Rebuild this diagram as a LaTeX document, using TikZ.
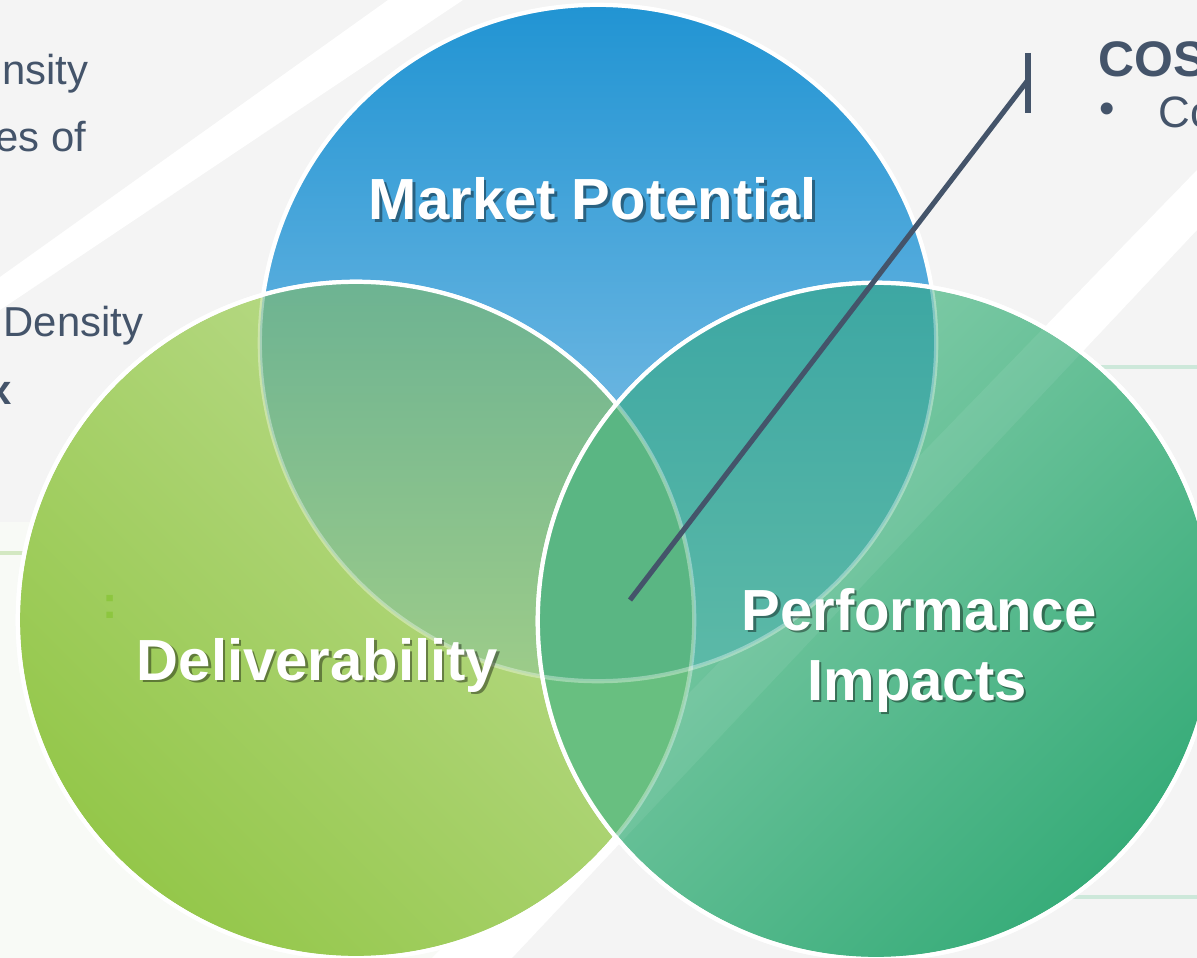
\documentclass[tikz,border=0pt]{standalone}
\usepackage{fontspec}
\setmainfont{Liberation Sans}
\definecolor{slate}{HTML}{44546A}
\definecolor{bgGray}{HTML}{F4F4F4}
\definecolor{mktTop}{HTML}{2194D3}
\definecolor{mktMid}{HTML}{62B1DF}
\definecolor{mktBot}{HTML}{9ACBEA}
\definecolor{dlvDark}{HTML}{94C74A}
\definecolor{dlvLight}{HTML}{BEDD92}
\definecolor{prfLight}{HTML}{8CD0AF}
\definecolor{prfDark}{HTML}{37AC79}
\definecolor{mdTop}{HTML}{6DB392}
\definecolor{mdBot}{HTML}{9DCC89}
\definecolor{mpTop}{HTML}{3DA7A3}
\definecolor{mpBot}{HTML}{5DBAA7}
\definecolor{dpMix}{HTML}{68BF80}
\definecolor{allMix}{HTML}{5AB683}
\definecolor{dotGreen}{HTML}{8DC63F}
\definecolor{panelLine}{HTML}{D3E8C2}
\definecolor{panelLineR}{HTML}{CDE8DA}
\definecolor{panelFill}{HTML}{F8FAF6}
\newcommand{\circrad}{3.38cm}
\begin{document}
\begin{tikzpicture}[x=0.01cm, y=-0.01cm,
  ring/.style={circle, minimum size=6.76cm, inner sep=0pt},
  rim/.style={draw=white, line width=1.2pt},
  faint/.style={draw=white, draw opacity=0.35, line width=1.2pt},
  big/.style={text=white, font=\bfseries\fontsize{16.5}{20}\selectfont, inner sep=0pt, anchor=base},
  bigshadow/.style={big, text=black, text opacity=0.4},
  side/.style={text=slate, font=\fontsize{11.9}{14}\selectfont, inner sep=0pt},
  lead/.style={draw=slate, line width=1.45pt}]
\clip (0,0) rectangle (1197,958);
\fill[bgGray] (0,0) rectangle (1197,958);
\fill[panelFill] (0,522) rectangle (440,958);
\draw[panelLine, line width=0.9pt] (0,553) -- (440,553);
\draw[panelLineR, line width=0.9pt] (1000,367) -- (1197,367);
\draw[panelLineR, line width=0.9pt] (1000,897) -- (1197,897);
\fill[white] (0,277) -- (388,0) -- (463,0) -- (0,310) -- cycle;
\fill[white] (1197,170) -- (1197,230) -- (512,958) -- (432,958) -- cycle;
\node[side, anchor=base east] (T_a) at (89,85) {ensity};
\node[side, anchor=base east] (T_b) at (87,152) {es of};
\node[side, anchor=base west] (T_c) at (3,337) {Density};
\node[side, anchor=base east, font=\bfseries\fontsize{11.9}{14}\selectfont] (T_d) at (12,405) {x};
\node[side, anchor=base west, font=\bfseries\fontsize{14.2}{17}\selectfont] (T_e) at (1098,77) {COS};
\node[side, font=\fontsize{12.5}{15}\selectfont] (T_f) at (1107,113) {•};
\node[side, anchor=base west, font=\fontsize{12.5}{15}\selectfont] (T_g) at (1158,128) {Co};
\node[ring, top color=mktTop, middle color=mktMid, bottom color=mktBot, rim] (C_mkt) at (598,343) {};
\node[ring, top color=dlvLight, bottom color=dlvDark, shading angle=-45, rim] (C_dlv) at (356,620) {};
\begin{scope}
  \clip (C_dlv.center) circle [radius=\circrad];
  \clip (C_mkt.center) circle [radius=\circrad];
  \shade[top color=mdTop, bottom color=mdBot] (0,282) rectangle (700,681);
\end{scope}
\draw[rim] (C_dlv.center) circle [radius=\circrad];
\draw[faint] (C_mkt.center) circle [radius=\circrad];
\node[ring, top color=prfLight, bottom color=prfDark, shading angle=45, rim] (C_prf) at (876,621) {};
\begin{scope}
  \clip (C_prf.center) circle [radius=\circrad];
  \fill[white, opacity=0.07] (1197,170) -- (1197,230) -- (512,958) -- (432,958) -- cycle;
  \begin{scope}
    \clip (C_mkt.center) circle [radius=\circrad];
    \shade[top color=mpTop, bottom color=mpBot] (500,283) rectangle (950,681);
  \end{scope}
  \begin{scope}
    \clip (C_dlv.center) circle [radius=\circrad];
    \fill[dpMix] (500,380) rectangle (700,840);
    \clip (C_mkt.center) circle [radius=\circrad];
    \fill[allMix] (500,380) rectangle (700,700);
  \end{scope}
  \draw[faint] (C_mkt.center) circle [radius=\circrad];
  \draw[faint] (C_dlv.center) circle [radius=\circrad];
\end{scope}
\draw[rim] (C_prf.center) circle [radius=\circrad];
\node[text=dotGreen, font=\bfseries\fontsize{13}{15}\selectfont, inner sep=0pt, anchor=base] (T_dots) at (110.5,618) {:};
\coordinate (lead_start) at (630,600);
\coordinate (lead_end) at (1028,80);
\coordinate (bar_top) at (1028,53);
\coordinate (bar_bot) at (1028,113);
\draw[lead] (lead_start) -- (lead_end);
\draw[lead] (bar_top) -- (bar_bot);
\node[bigshadow] (S_mkt) at (595.5,222.5) {Market Potential};
\node[big] (L_mkt) at (593,220) {Market Potential};
\node[bigshadow] (S_dlv) at (320,682.5) {Deliverability};
\node[big] (L_dlv) at (317.5,680) {Deliverability};
\node[bigshadow] (S_prf1) at (921.5,632.5) {Performance};
\node[big] (L_prf1) at (919,630) {Performance};
\node[bigshadow] (S_prf2) at (919.5,702.5) {Impacts};
\node[big] (L_prf2) at (917,700) {Impacts};
\end{tikzpicture}
\end{document}
